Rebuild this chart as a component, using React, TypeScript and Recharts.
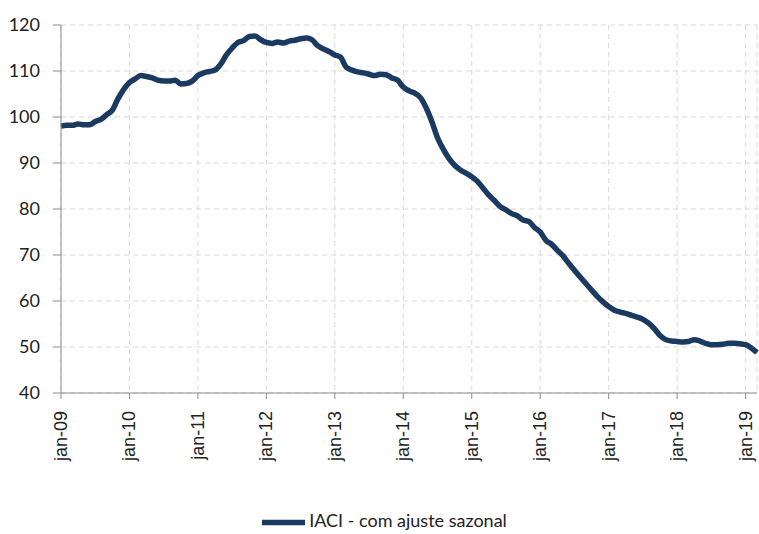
import * as React from 'react';
import {CartesianGrid, Legend, Line, LineChart, XAxis, YAxis} from 'recharts';

const months = ['jan', 'fev', 'mar', 'abr', 'mai', 'jun', 'jul', 'ago', 'set', 'out', 'nov', 'dez'];
const years = ['09', '10', '11', '12', '13', '14', '15', '16', '17', '18', '19'];

// IACI com ajuste sazonal, one array per year (monthly)
const iaci2009 = [98, 98.2, 98.2, 98.5, 98.3, 98.3, 99, 99.5, 100.5, 101.5, 104, 106];
const iaci2010 = [107.5, 108.3, 109, 108.8, 108.5, 108, 107.8, 107.8, 108, 107.2, 107.3, 107.8];
const iaci2011 = [109, 109.6, 109.9, 110.2, 111.5, 113.5, 115, 116.2, 116.6, 117.5, 117.6, 116.8];
const iaci2012 = [116.2, 116, 116.3, 116.1, 116.5, 116.7, 117, 117.2, 116.8, 115.5, 114.8, 114.2];
const iaci2013 = [113.5, 113, 110.8, 110.2, 109.8, 109.6, 109.3, 109, 109.3, 109.2, 108.5, 108];
const iaci2014 = [106.5, 105.7, 105.2, 104.2, 102, 99, 95.5, 93, 91, 89.5, 88.5, 87.8];
const iaci2015 = [87, 86, 84.5, 83, 81.8, 80.5, 79.8, 79, 78.5, 77.6, 77.3, 76];
const iaci2016 = [75, 73.2, 72.3, 71, 69.8, 68.2, 66.7, 65.2, 63.8, 62.4, 61, 59.8];
const iaci2017 = [58.8, 58, 57.6, 57.3, 56.9, 56.5, 56, 55.2, 54, 52.5, 51.6, 51.3];
const iaci2018 = [51.2, 51.1, 51.2, 51.6, 51.3, 50.8, 50.5, 50.5, 50.6, 50.8, 50.8, 50.7];
const iaci2019 = [50.5, 49.8, 48.8];

const yTicks = [40, 50, 60, 70, 80, 90, 100, 110, 120];
const xTicks = years.map((y) => `jan-${y}`);

const series = [iaci2009, iaci2010, iaci2011, iaci2012, iaci2013, iaci2014, iaci2015, iaci2016, iaci2017, iaci2018, iaci2019];
const data = series.flatMap((vals, i) =>
    vals.map((v, m) => ({month: `${months[m]}-${years[i]}`, iaci: v})),
);

const FONT = 'Lato, "Open Sans", sans-serif';

const XTick = (props: any) => {
    const {x, y, payload} = props;
    return (
        <text
            x={0}
            y={0}
            transform={`translate(${x + 6},${y + 10}) rotate(-90)`}
            textAnchor="end"
            fontSize={18}
            fontFamily='"Liberation Sans", Arial, sans-serif'
            fill="#222">
            {payload.value}
        </text>
    );
};

export default function App() {
    return (
        <div style={{position: 'absolute', left: 0, top: 0}}>
            <LineChart
                width={759}
                height={534}
                data={data}
                margin={{top: 25, right: 2, left: 0, bottom: 36}}>
                <CartesianGrid stroke="#d9d9d9" strokeDasharray="5 4" />
                <XAxis
                    dataKey="month"
                    ticks={xTicks}
                    interval={0}
                    height={75}
                    tick={<XTick />}
                    tickSize={6}
                    stroke="#8c8c8c"
                />
                <YAxis
                    domain={[40, 120]}
                    ticks={yTicks}
                    width={61}
                    tickSize={8}
                    tickMargin={13}
                    stroke="#8c8c8c"
                    tick={{fontSize: 18, fill: '#222', fontFamily: FONT}}
                />
                <Legend
                    verticalAlign="bottom"
                    height={30}
                    iconType="plainline"
                    iconSize={43}
                    wrapperStyle={{bottom: 3, left: 11, fontFamily: FONT, fontSize: 18, color: '#222'}}
                    formatter={(value) => <span style={{color: '#222'}}>{value}</span>}
                />
                <Line
                    type="monotone"
                    dataKey="iaci"
                    name="IACI - com ajuste sazonal"
                    stroke="#1b3a61"
                    strokeWidth={5.5}
                    dot={false}
                    isAnimationActive={false}
                />
            </LineChart>
        </div>
    );
}
